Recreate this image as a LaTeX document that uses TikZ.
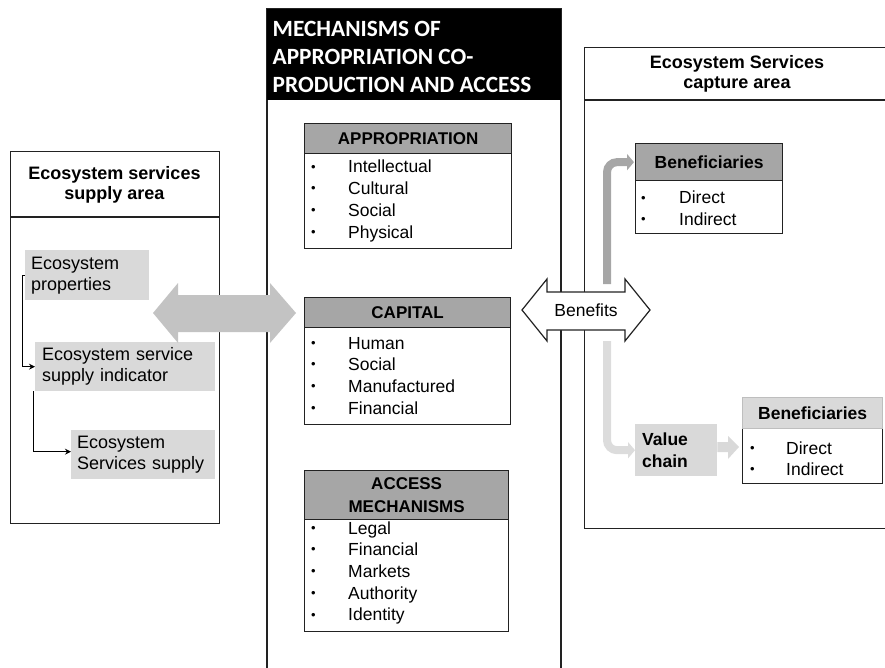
\documentclass[tikz,border=0pt]{standalone}
\usepackage{fontspec}
\setmainfont{Liberation Sans}
\newfontfamily\calibri{Carlito}
\usetikzlibrary{arrows.meta}
\definecolor{hdrgray}{HTML}{A6A6A6}
\definecolor{lightbox}{HTML}{D9D9D9}
\definecolor{bigarrow}{HTML}{C3C3C3}
\definecolor{uparrow}{HTML}{A6A6A6}
\definecolor{downarrow}{HTML}{DCDCDC}
\definecolor{frameline}{HTML}{222222}
\newcommand{\bulbox}[1]{\makebox[#1][l]{\hspace{1pt}\raisebox{1.8pt}{\fontsize{13}{13}\selectfont\textbullet}}}
\begin{document}
\begin{tikzpicture}[x=1pt,y=-1pt,
  frame/.style={draw=frameline, line width=1.3pt},
  hdrbox/.style={draw=frameline, line width=1.3pt, fill=hdrgray, anchor=north west, inner sep=0pt,
    font=\fontsize{17}{23}\selectfont\bfseries, align=center},
  bodybox/.style={draw=frameline, line width=1.3pt, fill=white, anchor=north west, inner sep=0pt},
  listtext/.style={anchor=base west, inner sep=0pt, font=\fontsize{17.5}{21.7}\selectfont},
  titletext/.style={inner sep=0pt, font=\fontsize{18}{20.5}\selectfont\bfseries, align=center},
  lightitem/.style={fill=lightbox, anchor=north west, inner ysep=0pt, align=left,
    font=\fontsize{18}{21}\selectfont},
  thinarrow/.style={draw=black, line width=0.9pt, -{Stealth[length=6pt,width=6pt]}},
  bendarrow/.style={line width=8pt, rounded corners=10pt, -{Triangle[length=7pt,width=16pt]}}
]
\useasboundingbox (0,0) rectangle (885,668);
\begin{scope}
\clip (0,0) rectangle (885,668);

% ---------- left box ----------
\node[frame, anchor=north west, minimum width=209pt, minimum height=372pt, inner sep=0pt] (leftbox) at (10,151) {};
\coordinate (ldivl) at (10,217);
\coordinate (ldivr) at (219,217);
\draw[frame] (ldivl) -- (ldivr);
\node[titletext] (lefttitle) at (114.5,185) {Ecosystem services\\supply area};

\node[lightitem, minimum width=124pt, minimum height=50pt, inner xsep=6pt, text width=112pt] (ep) at (25,250) {Ecosystem\\properties};
\node[lightitem, minimum width=180pt, minimum height=49pt, inner xsep=7pt, text width=166pt] (esi) at (35,342) {Ecosystem service\\supply indicator};
\node[lightitem, minimum width=144pt, minimum height=49pt, inner xsep=6pt, text width=132pt] (ess) at (71,430) {Ecosystem\\Services supply};

\draw[thinarrow] (ep.west) -- ++(-3,0) |- (esi.west);
\draw[thinarrow] ([xshift=-2pt]esi.south west) |- ([yshift=3pt]ess.west);

% ---------- right box ----------
\node[frame, anchor=north west, minimum width=311pt, minimum height=481pt, inner sep=0pt] (rightbox) at (584,47) {};
\coordinate (rdivl) at (584,100);
\coordinate (rdivr) at (895,100);
\draw[frame] (rdivl) -- (rdivr);
\node[titletext] (righttitle) at (737,74) {Ecosystem Services\\capture area};

% ---------- middle box ----------
\coordinate (mtl) at (267,9);
\coordinate (mtr) at (561,9);
\coordinate (mbl) at (267,675);
\coordinate (mbr) at (561,675);
\draw[frame] (mbl) -- (mtl) -- (mtr) -- (mbr);
\node[fill=black, anchor=north west, minimum width=294pt, minimum height=91pt, inner sep=0pt] (mhdr) at (267,9) {};
\node[anchor=west, inner sep=0pt, text=white, align=left,
  font=\calibri\fontsize{23.3}{28}\selectfont\bfseries] (mtitle) at (272.5,57)
  {MECHANISMS OF\\APPROPRIATION CO-\\PRODUCTION AND ACCESS};

% Appropriation
\node[bodybox, minimum width=207pt, minimum height=95pt] (appb) at (304,153) {};
\node[hdrbox, minimum width=207pt, minimum height=30pt] (apph) at (304,123) {APPROPRIATION};
\node[listtext] (appl) at (310,173) {\begin{tabular}[t]{@{}l@{}l@{}}
\bulbox{38pt} & Intellectual\\ \bulbox{38pt} & Cultural\\ \bulbox{38pt} & Social\\ \bulbox{38pt} & Physical\end{tabular}};

% Capital
\node[bodybox, minimum width=206pt, minimum height=97pt] (capb) at (304,327) {};
\node[hdrbox, minimum width=206pt, minimum height=30pt] (caph) at (304,297) {CAPITAL};
\node[listtext] (capl) at (310,349) {\begin{tabular}[t]{@{}l@{}l@{}}
\bulbox{38pt} & Human\\ \bulbox{38pt} & Social\\ \bulbox{38pt} & Manufactured\\ \bulbox{38pt} & Financial\end{tabular}};

% Access
\node[bodybox, minimum width=204pt, minimum height=112pt] (accb) at (304,519) {};
\node[hdrbox, minimum width=204pt, minimum height=49pt] (acch) at (304,470) {ACCESS\\MECHANISMS};
\node[listtext] (accl) at (310,534) {\begin{tabular}[t]{@{}l@{}l@{}}
\bulbox{38pt} & Legal\\ \bulbox{38pt} & Financial\\ \bulbox{38pt} & Markets\\ \bulbox{38pt} & Authority\\ \bulbox{38pt} & Identity\end{tabular}};

% ---------- big gray double arrow ----------
\fill[bigarrow] (153,313) -- (178,283) -- (178,295) -- (270,295) -- (270,283) -- (296,313)
  -- (270,343) -- (270,332) -- (178,332) -- (178,343) -- cycle;

% ---------- Benefits arrow ----------
\draw[fill=white, draw=frameline, line width=1.2pt] (522,310) -- (547,279) -- (547,292) -- (625,292) -- (625,279) -- (650,310)
  -- (625,341) -- (625,330) -- (547,330) -- (547,341) -- cycle;
\node[inner sep=0pt, font=\fontsize{17.5}{21}\selectfont] (benefits) at (586,310) {Benefits};

% ---------- Beneficiaries (top) ----------
\node[bodybox, minimum width=147pt, minimum height=53pt] (ben1b) at (635,180) {};
\node[hdrbox, minimum width=147pt, minimum height=37pt, font=\fontsize{17.5}{21}\selectfont\bfseries] (ben1h) at (635,143) {Beneficiaries};
\node[listtext] (ben1l) at (640,204) {\begin{tabular}[t]{@{}l@{}l@{}}
\bulbox{39pt} & Direct\\ \bulbox{39pt} & Indirect\end{tabular}};

% ---------- Value chain ----------
\node[lightitem, minimum width=82pt, minimum height=52pt, inner xsep=7pt, text width=68pt,
  font=\fontsize{17.5}{22}\selectfont\bfseries] (vc) at (635,424) {Value\\chain};

% ---------- Beneficiaries (bottom) ----------
\node[bodybox, minimum width=140pt, minimum height=55pt] (ben2b) at (742,428) {};
\node[draw=lightbox!70!gray, line width=1.3pt, fill=lightbox, anchor=north west, inner sep=0pt,
  minimum width=140pt, minimum height=31pt, font=\fontsize{17.5}{21}\selectfont\bfseries] (ben2h) at (742,397) {Beneficiaries};
\node[listtext] (ben2l) at (749,454) {\begin{tabular}[t]{@{}l@{}l@{}}
\bulbox{37pt} & Direct\\ \bulbox{37pt} & Indirect\end{tabular}};

% value chain -> beneficiaries block arrow
\fill[lightbox] (vc.east |- 0,442) -- (728,442) -- (728,436) -- (739,447) -- (728,459) -- (728,452)
  -- (vc.east |- 0,452) -- cycle;

% ---------- bent arrows ----------
\coordinate (upstart) at (607,284);
\coordinate (downstart) at (607,341);
\draw[bendarrow, draw=uparrow] (upstart) |- ([xshift=-1pt]ben1h.west);
\draw[bendarrow, draw=downarrow] (downstart) |- (vc.west);

\end{scope}
\end{tikzpicture}
\end{document}
